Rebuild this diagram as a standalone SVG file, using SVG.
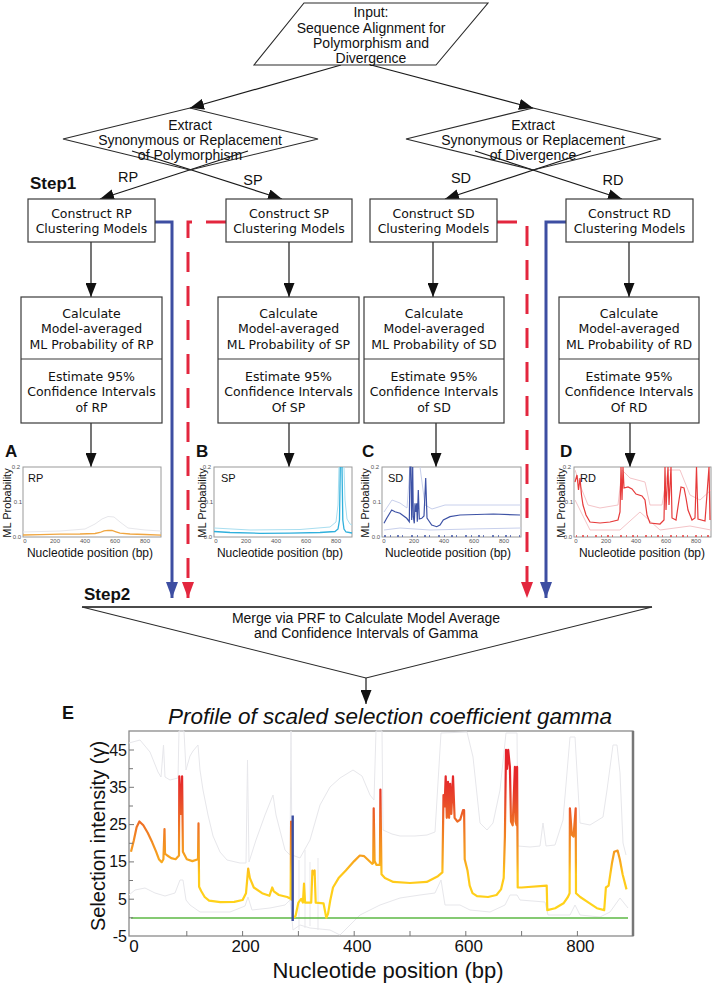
<svg xmlns="http://www.w3.org/2000/svg" width="720" height="984" viewBox="0 0 720 984">
<style>
.ln{fill:none;stroke:#1a1a1a;stroke-width:1.2}
.bx{fill:#fff;stroke:#3a3a3a;stroke-width:1.2}
.sh{fill:#fff;stroke:#2a2a2a;stroke-width:1.1}
.tn{font-family:"Liberation Sans",Arial,sans-serif;font-size:14px;fill:#111;text-anchor:middle}
.tb{font-family:"DejaVu Sans",Verdana,sans-serif;font-size:12.5px;fill:#111;text-anchor:middle}
.st{font-family:"Liberation Sans",Arial,sans-serif;font-size:17px;font-weight:bold;fill:#111}
.pl{font-family:"Liberation Sans",Arial,sans-serif;font-size:17px;font-weight:bold;fill:#111}
.ax{font-family:"Liberation Sans",Arial,sans-serif;font-size:12px;fill:#111;text-anchor:middle}
.ml{font-family:"Liberation Sans",Arial,sans-serif;font-size:11px;fill:#111;text-anchor:middle}
.tk{font-family:"Liberation Sans",Arial,sans-serif;font-size:6px;fill:#555;text-anchor:middle}
.in{font-family:"Liberation Sans",Arial,sans-serif;font-size:11px;fill:#111}
.fr{fill:#fff;stroke:#9a9a9a;stroke-width:1}
.ci{fill:none;stroke:#e7e7eb;stroke-width:1}
.big{font-family:"Liberation Sans",Arial,sans-serif;fill:#111}
.blue{fill:none;stroke:#3d4ea2;stroke-width:3}
.red{fill:none;stroke:#e3263e;stroke-width:3;stroke-dasharray:20 14}
</style>
<defs>
<marker id="ah" markerUnits="userSpaceOnUse" markerWidth="14" markerHeight="11" viewBox="0 0 14 11" refX="14" refY="5.5" orient="auto"><path d="M0,0 L14,5.5 L0,11 Z" fill="#111"/></marker>
<marker id="ahb" markerUnits="userSpaceOnUse" markerWidth="16" markerHeight="12" viewBox="0 0 16 12" refX="16" refY="6" orient="auto"><path d="M0,0 L16,6 L0,12 Z" fill="#3d4ea2"/></marker>
<marker id="ahr" markerUnits="userSpaceOnUse" markerWidth="16" markerHeight="12" viewBox="0 0 16 12" refX="16" refY="6" orient="auto"><path d="M0,0 L16,6 L0,12 Z" fill="#e3263e"/></marker>
<linearGradient id="gg" gradientUnits="userSpaceOnUse" x1="0" y1="919.5" x2="0" y2="750">
<stop offset="0" stop-color="#ffd81a"/>
<stop offset="0.267" stop-color="#ffc81a"/>
<stop offset="0.339" stop-color="#f8a91e"/>
<stop offset="0.467" stop-color="#f28a22"/>
<stop offset="0.587" stop-color="#ee6a25"/>
<stop offset="0.705" stop-color="#e8472a"/>
<stop offset="0.823" stop-color="#e52a2a"/>
<stop offset="1" stop-color="#e4202a"/>
</linearGradient>
</defs>

<g id="connectors">
<line class="ln" x1="341" y1="65" x2="190" y2="108" marker-end="url(#ah)"/>
<line class="ln" x1="371" y1="65" x2="533" y2="108" marker-end="url(#ah)"/>
<line class="ln" x1="248" y1="151" x2="100" y2="199" marker-end="url(#ah)"/>
<line class="ln" x1="132" y1="151" x2="282" y2="199" marker-end="url(#ah)"/>
<line class="ln" x1="591" y1="151" x2="445" y2="199" marker-end="url(#ah)"/>
<line class="ln" x1="475" y1="151" x2="622" y2="199" marker-end="url(#ah)"/>
<line class="ln" x1="91" y1="242" x2="91" y2="297" marker-end="url(#ah)"/>
<line class="ln" x1="289" y1="242" x2="289" y2="297" marker-end="url(#ah)"/>
<line class="ln" x1="433" y1="242" x2="433" y2="297" marker-end="url(#ah)"/>
<line class="ln" x1="629" y1="242" x2="629" y2="297" marker-end="url(#ah)"/>
<line class="ln" x1="91" y1="423" x2="91" y2="467" marker-end="url(#ah)"/>
<line class="ln" x1="289" y1="423" x2="289" y2="467" marker-end="url(#ah)"/>
<line class="ln" x1="436" y1="423" x2="436" y2="467" marker-end="url(#ah)"/>
<line class="ln" x1="630" y1="423" x2="630" y2="467" marker-end="url(#ah)"/>
<path class="blue" d="M155,222 H172 V598" marker-end="url(#ahb)"/>
<path class="red" d="M226,222 H188 V598" marker-end="url(#ahr)"/>
<path class="red" d="M497,222 H527 V598" marker-end="url(#ahr)"/>
<path class="blue" d="M566,222 H546 V598" marker-end="url(#ahb)"/>
<line class="ln" x1="366" y1="678" x2="366" y2="704" marker-end="url(#ah)"/>
</g>

<g id="input">
<polygon class="sh" points="304,3 488,3 436,65 254,65"/>
<text class="tn" x="371" y="17">Input:</text>
<text class="tn" x="371" y="33">Sequence Alignment for</text>
<text class="tn" x="371" y="48">Polymorphism and</text>
<text class="tn" x="371" y="63">Divergence</text>
</g>

<g id="extract-poly">
<polygon class="sh" points="190,108 318,139 190,170 63,139" fill-opacity="0"/>
<text class="tn" x="190" y="130">Extract</text>
<text class="tn" x="190" y="145">Synonymous or Replacement</text>
<text class="tn" x="190" y="160">of Polymorphism</text>
</g>
<g id="extract-div">
<polygon class="sh" points="533,108 661,139 533,170 406,139" fill-opacity="0"/>
<text class="tn" x="533" y="130">Extract</text>
<text class="tn" x="533" y="145">Synonymous or Replacement</text>
<text class="tn" x="533" y="160">of Divergence</text>
</g>

<g id="branch-labels">
<text class="tn" x="128" y="182" style="font-size:14.5px">RP</text>
<text class="tn" x="253" y="185" style="font-size:14.5px">SP</text>
<text class="tn" x="461" y="183" style="font-size:14.5px">SD</text>
<text class="tn" x="613" y="185" style="font-size:14.5px">RD</text>
<text class="st" x="30" y="189">Step1</text>
</g>

<g id="construct-rp"><rect class="bx" x="28" y="199" width="127" height="43"/><text class="tb" x="91.5" y="217.5">Construct RP</text><text class="tb" x="91.5" y="233">Clustering Models</text></g>
<g id="construct-sp"><rect class="bx" x="226" y="199" width="126" height="43"/><text class="tb" x="289" y="217.5">Construct SP</text><text class="tb" x="289" y="233">Clustering Models</text></g>
<g id="construct-sd"><rect class="bx" x="370" y="199" width="127" height="43"/><text class="tb" x="433.5" y="217.5">Construct SD</text><text class="tb" x="433.5" y="233">Clustering Models</text></g>
<g id="construct-rd"><rect class="bx" x="566" y="199" width="127" height="43"/><text class="tb" x="629.5" y="217.5">Construct RD</text><text class="tb" x="629.5" y="233">Clustering Models</text></g>

<g id="calc-rp"><rect class="bx" x="21" y="297" width="141" height="126"/><line class="bx" x1="21" y1="359" x2="162" y2="359"/>
<text class="tb" x="91.5" y="317.5">Calculate</text><text class="tb" x="91.5" y="333">Model-averaged</text><text class="tb" x="91.5" y="348.5">ML Probability of RP</text>
<text class="tb" x="91.5" y="380.5">Estimate 95%</text><text class="tb" x="91.5" y="396">Confidence Intervals</text><text class="tb" x="91.5" y="411.5">of RP</text></g>
<g id="calc-sp"><rect class="bx" x="218" y="297" width="141" height="126"/><line class="bx" x1="218" y1="359" x2="359" y2="359"/>
<text class="tb" x="288.5" y="317.5">Calculate</text><text class="tb" x="288.5" y="333">Model-averaged</text><text class="tb" x="288.5" y="348.5">ML Probability of SP</text>
<text class="tb" x="288.5" y="380.5">Estimate 95%</text><text class="tb" x="288.5" y="396">Confidence Intervals</text><text class="tb" x="288.5" y="411.5">Of SP</text></g>
<g id="calc-sd"><rect class="bx" x="364" y="297" width="140" height="126"/><line class="bx" x1="364" y1="359" x2="504" y2="359"/>
<text class="tb" x="434" y="317.5">Calculate</text><text class="tb" x="434" y="333">Model-averaged</text><text class="tb" x="434" y="348.5">ML Probability of SD</text>
<text class="tb" x="434" y="380.5">Estimate 95%</text><text class="tb" x="434" y="396">Confidence Intervals</text><text class="tb" x="434" y="411.5">of SD</text></g>
<g id="calc-rd"><rect class="bx" x="559" y="297" width="140" height="126"/><line class="bx" x1="559" y1="359" x2="699" y2="359"/>
<text class="tb" x="629" y="317.5">Calculate</text><text class="tb" x="629" y="333">Model-averaged</text><text class="tb" x="629" y="348.5">ML Probability of RD</text>
<text class="tb" x="629" y="380.5">Estimate 95%</text><text class="tb" x="629" y="396">Confidence Intervals</text><text class="tb" x="629" y="411.5">Of RD</text></g>

<g id="plot-a">
<text class="pl" x="5" y="457">A</text>
<rect class="fr" x="23" y="467" width="138" height="70"/>
<path class="ci" d="M23,532 L60,531 L85,529 L95,524 L102,519 L108,516.5 L114,517 L120,522 L128,528 L145,530 L161,531"/>
<path fill="none" stroke="#f0a640" stroke-width="1.3" d="M23,535 L40,534.6 L60,534.2 L80,534 L95,533.5 L100,532.5 L104,530.8 L108,530.3 L112,530.5 L116,531.8 L120,533.2 L130,534 L145,534.5 L161,535.2"/>
<text class="in" x="28" y="482">RP</text>
<text class="tk" x="16" y="469">0.2</text><text class="tk" x="18" y="504">0.1</text><text class="tk" x="17" y="539">0.0</text>
<text class="tk" x="25" y="543">0</text><text class="tk" x="55" y="543">200</text><text class="tk" x="85" y="543">400</text><text class="tk" x="115" y="543">600</text><text class="tk" x="145" y="543">800</text>
<text class="ml" transform="translate(11,503) rotate(-90)">ML Probability</text>
<text class="ax" x="90" y="557">Nucleotide position (bp)</text>
</g>

<g id="plot-b">
<text class="pl" x="196" y="457">B</text>
<rect class="fr" x="214" y="467" width="138" height="70"/>
<path fill="none" stroke="#a8def0" stroke-width="1" d="M214,528 L250,530 L300,529.5 L330,527 L336,522 L338,505 L339,467 M344,467 L345,500 L347,519 L350,524 L352,525"/>
<path fill="none" stroke="#2fb0dc" stroke-width="1.3" d="M214,531.5 L230,532.5 L260,533.3 L290,533.2 L320,532.5 L335,531.5 L338,529 L339.5,520 L340.3,467 M342,467 L342.8,520 L344,529 L346,532 L352,533"/>
<text class="in" x="221" y="482">SP</text>
<text class="tk" x="207" y="469">0.2</text><text class="tk" x="209" y="504">0.1</text><text class="tk" x="208" y="539">0.0</text>
<text class="tk" x="216" y="543">0</text><text class="tk" x="246" y="543">200</text><text class="tk" x="276" y="543">400</text><text class="tk" x="306" y="543">600</text><text class="tk" x="336" y="543">800</text>
<text class="ml" transform="translate(206,503) rotate(-90)">ML Probability</text>
<text class="ax" x="280" y="557">Nucleotide position (bp)</text>
</g>

<g id="plot-c">
<text class="pl" x="362" y="457">C</text>
<rect class="fr" x="382" y="467" width="139" height="70"/>
<path fill="none" stroke="#c8d0ec" stroke-width="1" d="M384,512 L392,500 L400,503 L407,508 L410,467 M420,467 L425,505 L432,509 L445,505 L470,505 L521,505 M384,530 L400,528 L430,530 L470,529 L521,528"/>
<path fill="none" stroke="#3d52a5" stroke-width="1.2" d="M384,523.3 L386.7,518.3 L391.7,510 L395,511.7 L400,513.3 L406.7,518.3 L409.3,521.7 L410,467 L411,467 L411.7,520 L412.7,467 L413.3,516.7 L414.3,523.3 L415,503.3 L416,512 L416.7,503.3 L417.3,521.7 L418.3,490 L419.3,519 L421.7,518.3 L424,516 L425.7,478 L427,518 L428.3,520 L431.7,525 L436.7,526.7 L440,525 L443.3,520 L450,516.7 L460,515 L493.3,514 L520,515"/>
<line x1="384" y1="536" x2="520" y2="536" stroke="#3d52a5" stroke-width="1.5" stroke-dasharray="2 4 1 6 2 3 1 8"/>
<text class="in" x="388" y="482">SD</text>
<text class="tk" x="375" y="469">0.2</text><text class="tk" x="377" y="504">0.1</text><text class="tk" x="376" y="539">0.0</text>
<text class="tk" x="384" y="543">0</text><text class="tk" x="414" y="543">200</text><text class="tk" x="444" y="543">400</text><text class="tk" x="474" y="543">600</text><text class="tk" x="504" y="543">800</text>
<text class="ml" transform="translate(369,503) rotate(-90)">ML Probability</text>
<text class="ax" x="448" y="557">Nucleotide position (bp)</text>
</g>

<g id="plot-d">
<text class="pl" x="560" y="457">D</text>
<rect class="fr" x="574" y="467" width="137" height="70"/>
<path fill="none" stroke="#f4c4c8" stroke-width="1" d="M575,470 L580,485 L588,505 L600,508 L618,505 L622,470 L630,478 L645,482 L650,505 L662,505 L668,470 L680,470 L690,495 L700,500 L711,490 M575,500 L590,530 L620,530 L640,512 L660,530 L690,526 L711,530"/>
<path fill="none" stroke="#e63a3a" stroke-width="1.2" d="M575,482 L577,475 L578.5,490 L580,478 L581.5,495 L583,505 L586,515 L590,522 L600,523 L610,522 L618,520 L620,512 L621,467 L622,500 L623,467 L624,488 L628,487 L632,489 L636,494 L642,496 L645,500 L647,515 L650,523 L660,524 L664,520 L665,467 L666,510 L668,467 L669,505 L671,467 L672,518 L676,520 L679,500 L681,487 L684,488 L686,498 L688,510 L692,520 L695,518 L696.5,467 L698,519 L705,521 L709,467 L710,520"/>
<line x1="576" y1="536" x2="710" y2="536" stroke="#e63a3a" stroke-width="1.5" stroke-dasharray="1 5 2 3 1 7 2 4"/>
<text class="in" x="580" y="482">RD</text>
<text class="tk" x="567" y="469">0.2</text><text class="tk" x="569" y="504">0.1</text><text class="tk" x="568" y="539">0.0</text>
<text class="tk" x="576" y="543">0</text><text class="tk" x="606" y="543">200</text><text class="tk" x="636" y="543">400</text><text class="tk" x="666" y="543">600</text><text class="tk" x="696" y="543">800</text>
<text class="ml" transform="translate(565,503) rotate(-90)">ML Probability</text>
<text class="ax" x="642" y="557">Nucleotide position (bp)</text>
</g>

<g id="merge">
<text class="st" x="84" y="600">Step2</text>
<polygon points="82,607 652,607 366,678" fill="#fff" stroke="#2a2a2a" stroke-width="1.1"/>
<line x1="82" y1="607" x2="652" y2="607" stroke="#333" stroke-width="1.6"/>
<text class="tn" x="366" y="623">Merge via PRF to Calculate Model Average</text>
<text class="tn" x="366" y="638">and Confidence Intervals of Gamma</text>
</g>

<g id="plot-e">
<text class="pl" x="62" y="719" style="font-size:18px">E</text>
<text class="big" x="390" y="724" text-anchor="middle" font-style="italic" font-size="22.5">Profile of scaled selection coefficient gamma</text>
<rect x="129" y="731" width="504" height="205" fill="#fff" stroke="#8a8a8a" stroke-width="1.3"/>
<line x1="633" y1="731" x2="633" y2="936" stroke="#777" stroke-width="2.5"/>
<path class="ci" d="M129,743 L140,740 L150,752 L158,772 L161,777 L163.5,745 L165,777 L170,780 L178,778 L179,731 L184,731 L186,770 L190,756 L193,751 L198,745 L200,770 L203,790 L208,815 L213,836 L220,852 L227,860 L240,863 L246,863 L247.5,760 L249,862 L256,840 L265,815 L273,795 L276,815 L285,850 L290,855 L291,731 L292,855 L300,858 L310,840 L320,805 L330,787 L340,778 L353,770 L362,776 L370,795 L374,800 L376,731 L382,731 L383,830 L392,834 L400,836 L415,836 L427,835 L435,832 L441,733 L467,732 L473,757 L480,823 L487,830 L493,823 L500,790 L506,733 L517,733 L518,846 L530,847 L540,846 L543,823 L546,846 L555,845 L563,820 L570,737 L575,737 L580,823 L590,825 L603,817 L607,790 L613,745 L617,745 L620,773 L623,843 L626,855"/>
<path class="ci" d="M129,895 L135,890 L145,888 L155,893 L165,896 L175,893 L180,880 L183,880 L186,900 L190,905 L200,912 L230,912 L245,906 L248,897 L252,910 L270,908 L285,905 L290,900 L293,930 L300,925 L310,928 L330,930 L340,935 L350,925 L360,915 L380,905 L400,898 L420,895 L435,893 L441,880 L445,905 L460,905 L470,910 L490,912 L505,905 L510,895 L517,895 L520,900 L545,902 L548,915 L570,915 L575,905 L580,915 L600,917 L610,912 L620,898 L628,908 M299,860 V930 M305,850 V928 M310,862 V926 M318,858 V930"/>
<line x1="131" y1="918" x2="628" y2="918" stroke="#5cb845" stroke-width="1.3"/>
<path fill="none" stroke="url(#gg)" stroke-width="2.2" stroke-linejoin="round" d="M131,851.7 L133.8,840.4 L136.6,827.2 L139.4,821.5 L143.3,825.3 L147.7,832.8 L152.2,842.3 L156.1,851.7 L158.9,859.2 L161.7,862.2 L163.4,859.2 L164.5,829.1 L165,853.6 L167.3,855.5 L171.2,858.1 L175.6,859.2 L179,855.5 L179.3,776.3 L180.7,814 L182.1,776.3 L182.9,851.7 L186.8,859.2 L192.4,861.1 L198,859.2 L198.5,823.4 L199.1,886.8 L201.3,891.3 L204.7,897 L209.1,900.7 L220.3,902.2 L234.2,901.8 L242.6,900 L246,893.2 L248.2,868.7 L249.9,878.1 L253.8,887.5 L262.1,893.2 L269.4,895.8 L272.2,887.5 L273.8,891.3 L278.9,895 L287.2,897 L290.6,898.8 L291.1,821.5 L291.7,900.7 M293.9,917.7 L295.6,915.8 L298.4,902.6 L301.2,898.8 L302.9,902.6 L304,883.7 L305.1,902.6 L311.2,902.6 L312.4,870.5 L313.5,874.3 L314.6,870.5 L315.7,902.6 L323.5,903.3 L326.3,917.7 L328,913.9 L330.2,900.7 L333,887.5 L338.6,878.1 L345.8,870.5 L354.2,861.1 L359.8,855.5 L364.2,856.2 L368.2,860 L372.1,863.8 L373.2,863 L373.7,808.3 L374.6,861.1 L376.5,864.9 L379.9,864.9 L380.4,789.5 L381.5,874.3 L384.9,878.1 L393.3,881.9 L410,883 L426.7,881.9 L437.9,876.2 L442.4,872.4 L443.5,795.1 L444.6,806.4 L445.7,776.3 L446.8,817.8 L448,781.9 L449.1,817.8 L450.2,783.8 L451.3,814 L453,776.3 L454.6,817.8 L457.4,821.5 L460.2,819.6 L463,810.2 L464.1,810.2 L464.7,859.2 L467.5,870.5 L469.7,885.6 L472.5,893.2 L477,896.2 L488.1,897 L496.5,895 L501,889.4 L503.7,878.1 L504.9,836.6 L506,749.9 L507.1,768.8 L508.2,749.9 L509.3,761.2 L509.9,766.9 L511,821.5 L512.7,825.3 L514.9,766.9 L515.5,821.5 L516.6,825.3 L517.1,766.9 L517.7,887.5 L521.6,887.5 L546.7,885.6 L547.3,910.1 L555.1,908.2 L563.5,903.3 L567.9,897 L569.6,893.2 L569.9,808.3 L571.8,834.7 L573.5,836.6 L575.7,808.3 L576,893.2 L580.2,897 L588.6,902.6 L596.9,908.2 L604.2,910.1 L605.9,887.5 L608.6,885.6 L612,863 L614.2,851.7 L617.6,850.6 L619.8,859.2 L622.6,874.3 L626.5,889.4"/>
<line x1="292.7" y1="815.5" x2="292.7" y2="921" stroke="#3a4da0" stroke-width="2.4"/>
<g stroke="#777" stroke-width="1">
<path d="M129,750 h5 M129,768.7 h4 M129,787.3 h5 M129,806 h4 M129,824.6 h5 M129,843.3 h4 M129,861.9 h5 M129,880.5 h4 M129,899.2 h5 M129,917.8 h4"/>
<path d="M186.8,936 v-5 M242.6,936 v-5 M298.4,936 v-5 M354.2,936 v-5 M410,936 v-5 M465.8,936 v-5 M521.6,936 v-5 M577.4,936 v-5"/>
</g>
<g class="big" font-size="16" text-anchor="end">
<text x="127" y="755.5">45</text>
<text x="127" y="792.8">35</text>
<text x="127" y="830.1">25</text>
<text x="127" y="867.4">15</text>
<text x="127" y="904.7">5</text>
<text x="127" y="942">-5</text>
</g>
<g class="big" font-size="17" text-anchor="middle">
<text x="134" y="952">0</text>
<text x="245.6" y="952">200</text>
<text x="357.2" y="952">400</text>
<text x="468.8" y="952">600</text>
<text x="580.4" y="952">800</text>
</g>
<text class="big" transform="translate(105,836) rotate(-90)" text-anchor="middle" font-size="20">Selection intensity (γ)</text>
<text class="big" x="388" y="978" text-anchor="middle" font-size="22">Nucleotide position (bp)</text>
</g>
</svg>
